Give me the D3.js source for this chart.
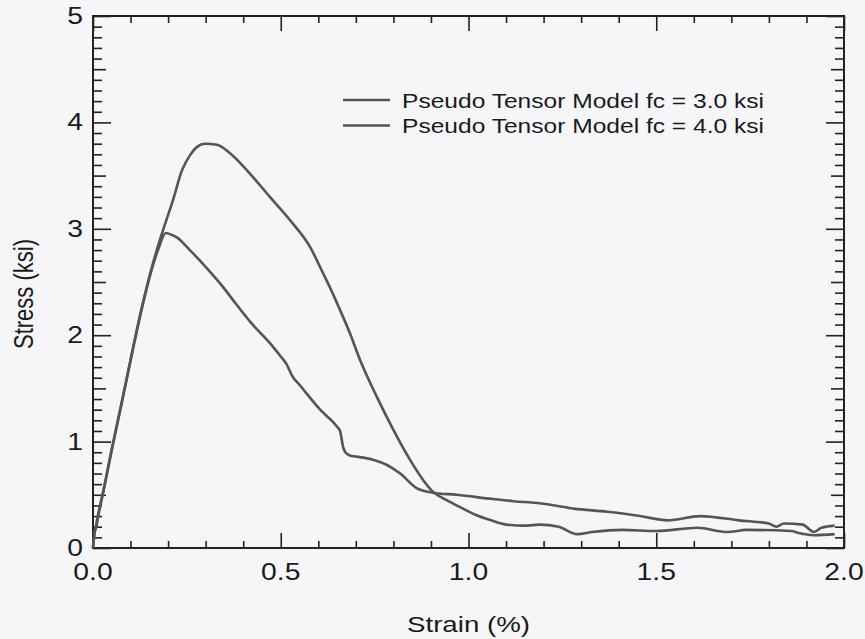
<!DOCTYPE html>
<html>
<head>
<meta charset="utf-8">
<script src="https://cdn.jsdelivr.net/npm/d3@7"></script>
<style>
  html, body { margin: 0; padding: 0; background: #f6f6f9; }
  svg { display: block; }
  text { font-family: "Liberation Sans", Arial, sans-serif; fill: #1a1a1a; }
</style>
</head>
<body>
<svg id="chart" width="865" height="639"></svg>
<script>
// Axis ticks and labels
const strainTicks = [0.0, 0.5, 1.0, 1.5, 2.0];
const strainTickLabels = ["0.0", "0.5", "1.0", "1.5", "2.0"];
const stressTicks = [0, 1, 2, 3, 4, 5];
const stressTickLabels = ["0", "1", "2", "3", "4", "5"];

// Series names
const seriesNames = ["Pseudo Tensor Model fc = 3.0 ksi", "Pseudo Tensor Model fc = 4.0 ksi"];

// fc = 3.0 ksi : strain (%) and stress (ksi)
const fc3Strain = [0, 0.004, 0.008, 0.015, 0.027, 0.05, 0.08, 0.10, 0.13, 0.155, 0.175, 0.194,
  0.205, 0.223, 0.258, 0.303, 0.347, 0.373, 0.42, 0.47, 0.50, 0.515, 0.522, 0.53, 0.551,
  0.605, 0.65, 0.658, 0.666, 0.672, 0.684, 0.70, 0.746, 0.783, 0.818, 0.863, 0.905, 0.969,
  1.065, 1.12, 1.19, 1.28, 1.37, 1.457, 1.53, 1.617, 1.72, 1.80, 1.82, 1.84, 1.89, 1.92,
  1.94, 1.975];
const fc3Stress = [0, 0.16, 0.19, 0.32, 0.52, 0.92, 1.42, 1.76, 2.25, 2.60, 2.82, 2.96,
  2.95, 2.92, 2.80, 2.63, 2.45, 2.33, 2.12, 1.93, 1.80, 1.73, 1.68, 1.62, 1.53,
  1.30, 1.14, 1.10, 0.95, 0.90, 0.87, 0.86, 0.83, 0.78, 0.70, 0.56, 0.52, 0.50,
  0.46, 0.44, 0.42, 0.37, 0.34, 0.30, 0.26, 0.30, 0.26, 0.23, 0.20, 0.23, 0.22, 0.15,
  0.19, 0.21];

// fc = 4.0 ksi : strain (%) and stress (ksi)
const fc4Strain = [0, 0.004, 0.008, 0.015, 0.027, 0.05, 0.08, 0.10, 0.13, 0.16, 0.184,
  0.213, 0.237, 0.258, 0.277, 0.298, 0.33, 0.365, 0.41, 0.471, 0.525, 0.578, 0.613, 0.64,
  0.65, 0.684, 0.711, 0.756, 0.80, 0.844, 0.879, 0.905, 0.942, 0.98, 1.02, 1.06, 1.10,
  1.15, 1.19, 1.24, 1.29, 1.33, 1.41, 1.50, 1.61, 1.69, 1.74, 1.86, 1.88, 1.92, 1.975];
const fc4Stress = [0, 0.13, 0.21, 0.34, 0.53, 0.93, 1.43, 1.77, 2.26, 2.68, 2.96,
  3.27, 3.55, 3.69, 3.77, 3.80, 3.79, 3.71, 3.55, 3.30, 3.08, 2.83, 2.58, 2.38,
  2.30, 2.02, 1.77, 1.42, 1.11, 0.83, 0.64, 0.53, 0.45, 0.38, 0.31, 0.26, 0.22,
  0.21, 0.22, 0.20, 0.13, 0.15, 0.17, 0.16, 0.19, 0.15, 0.17, 0.16, 0.14, 0.12, 0.13];

const svg = d3.select("#chart");
const margin = { left: 93, top: 16, right: 21, bottom: 91 };
const W = 865 - margin.left - margin.right;
const H = 639 - margin.top - margin.bottom;
const sx = 1.23; // horizontal text stretch

const x = d3.scaleLinear().domain([0, 2]).range([0, W]);
const y = d3.scaleLinear().domain([0, 5]).range([H, 0]);

const g = svg.append("g").attr("transform", `translate(${margin.left},${margin.top})`);

// Tick generators: every tick points into the plot
function ticks(axisFn, scale, values, len, translate) {
  const a = axisFn(scale).tickValues(values).tickSize(-len).tickFormat("");
  const t = g.append("g").attr("transform", translate).call(a);
  t.select(".domain").remove();
  t.selectAll("line").attr("stroke", "#222").attr("stroke-width", 1.6);
}
const xMinor = d3.range(0, 2.0001, 0.1).map(v => +v.toFixed(2)).filter(v => !strainTicks.includes(v));
const yMinor = d3.range(0, 5.0001, 0.1).map(v => +v.toFixed(2)).filter(v => Math.abs(v * 2 - Math.round(v * 2)) > 1e-6);
const yHalf = d3.range(0.5, 5, 1);

ticks(d3.axisBottom, x, xMinor, 7, `translate(0,${H})`);
ticks(d3.axisBottom, x, strainTicks, 15, `translate(0,${H})`);
ticks(d3.axisTop, x, xMinor, 7, `translate(0,0)`);
ticks(d3.axisTop, x, strainTicks, 15, `translate(0,0)`);
ticks(d3.axisLeft, y, yMinor, 9, `translate(0,0)`);
ticks(d3.axisLeft, y, yHalf, 13, `translate(0,0)`);
ticks(d3.axisLeft, y, stressTicks, 18, `translate(0,0)`);
ticks(d3.axisRight, y, yMinor, 9, `translate(${W},0)`);
ticks(d3.axisRight, y, yHalf, 13, `translate(${W},0)`);
ticks(d3.axisRight, y, stressTicks, 18, `translate(${W},0)`);

// Frame
g.append("rect").attr("x", 0).attr("y", 0).attr("width", W).attr("height", H)
  .attr("fill", "none").attr("stroke", "#222").attr("stroke-width", 2);

// Tick labels
g.selectAll(".xl").data(strainTicks).join("text")
  .attr("class", "xl")
  .attr("transform", d => `translate(${x(d)},${H + 32}) scale(${sx},1)`)
  .attr("text-anchor", "middle")
  .style("font-size", "23px")
  .text((d, i) => strainTickLabels[i]);

g.selectAll(".yl").data(stressTicks).join("text")
  .attr("class", "yl")
  .attr("transform", d => `translate(-10,${y(d) + 8}) scale(${sx},1)`)
  .attr("text-anchor", "end")
  .style("font-size", "23px")
  .text((d, i) => stressTickLabels[i]);

// Axis titles
svg.append("text")
  .attr("transform", `translate(${margin.left + W / 2},632) scale(${sx},1)`)
  .attr("text-anchor", "middle")
  .style("font-size", "22.5px")
  .text("Strain (%)");

svg.append("text")
  .attr("transform", `translate(33,${margin.top + H / 2 + 12}) scale(${sx},1) rotate(-90)`)
  .attr("text-anchor", "middle")
  .style("font-size", "22px")
  .text("Stress (ksi)");

// Curves
const line = d3.line().x(d => x(d[0])).y(d => y(d[1])).curve(d3.curveMonotoneX);
const series = [
  d3.zip(fc3Strain, fc3Stress),
  d3.zip(fc4Strain, fc4Stress)
];
g.selectAll(".curve").data(series).join("path")
  .attr("class", "curve")
  .attr("d", line)
  .attr("fill", "none")
  .attr("stroke", "#555558")
  .attr("stroke-width", 2.6)
  .attr("stroke-linejoin", "round");

// Legend
const legend = svg.append("g");
seriesNames.forEach((name, i) => {
  const ly = 100 + i * 25.5;
  legend.append("line")
    .attr("x1", 343).attr("x2", 390).attr("y1", ly).attr("y2", ly)
    .attr("stroke", "#555558").attr("stroke-width", 2.6);
  legend.append("text")
    .attr("transform", `translate(402,${ly + 7.5}) scale(1.26,1)`)
    .style("font-size", "19.5px")
    .text(name);
});
</script>
</body>
</html>
